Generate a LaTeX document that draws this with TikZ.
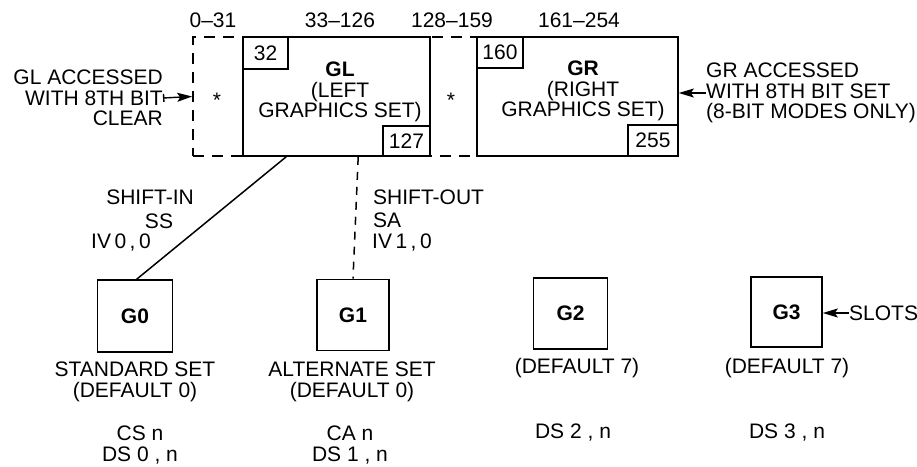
\documentclass[tikz,border=0pt]{standalone}
\usepackage{fontspec}
\setmainfont{Liberation Sans}
\usetikzlibrary{arrows.meta,calc}
\begin{document}
\begin{tikzpicture}[x=1pt,y=-1pt,
  every node/.style={font=\fontsize{21}{20.5}\selectfont, inner sep=0pt},
  box/.style={draw, line width=1.6pt, inner sep=0pt},
  frame/.style={draw, line width=1.6pt, dash pattern=on 11pt off 8pt, inner sep=0pt},
  conn/.style={line width=1.5pt},
  dconn/.style={line width=1.5pt, dash pattern=on 8pt off 7pt},
  arr/.style={line width=1.4pt, -{Stealth[length=15pt,width=9pt,inset=3pt]}},
  arrbar/.style={line width=1.4pt, {Bar[width=8pt]}-{Stealth[length=15pt,width=9pt,inset=3pt]}},
  txt/.style={align=center},
  gbox/.style={box, font=\fontsize{21}{20.5}\selectfont\bfseries}
]
\useasboundingbox (0,0) rectangle (917,466);

% dashed frame round the 7-bit code area
\node[frame, minimum width=284pt, minimum height=119pt] (frame) at (335,96.5) {};

% GL and GR
\node[box, fill=white, minimum width=187pt, minimum height=119pt] (GL) at (336.5,96.5) {};
\node[box, minimum width=45pt, minimum height=32pt, anchor=north west] (n32) at (GL.north west) {32};
\node[box, minimum width=47pt, minimum height=30pt, anchor=south east] (n127) at (GL.south east) {127};
\node[txt] (gllab) at (340,92) {\textbf{GL}\\(LEFT\\GRAPHICS SET)};

\node[box, fill=white, minimum width=201pt, minimum height=119pt] (GR) at (577.5,96.5) {};
\node[box, minimum width=46pt, minimum height=31pt, anchor=north west] (n160) at (GR.north west) {160};
\node[box, minimum width=50pt, minimum height=31pt, anchor=south east] (n255) at (GR.south east) {255};
\node[txt] (grlab) at (583,91) {\textbf{GR}\\(RIGHT\\GRAPHICS SET)};

% asterisks
\node[anchor=base] (st1) at (217,107) {*};
\node[anchor=base] (st2) at (451,107) {*};

% range labels
\node (r1) at (213,20) {0--31};
\node (r2) at (340,20) {33--126};
\node (r3) at (452,20) {128--159};
\node (r4) at (579,20) {161--254};

% access notes
\node[align=right, anchor=east] (glacc) at (163,98) {GL ACCESSED\\WITH 8TH BIT\\CLEAR};
\draw[arrbar] (glacc.east) -- (frame.west);
\node[align=left, anchor=west] (gracc) at (706,93) {GR ACCESSED\\WITH 8TH BIT SET\\(8-BIT MODES ONLY)};
\draw[arr] (gracc.west) -- (gracc.west -| GR.east);

% G0..G3
\node[gbox, minimum width=75pt, minimum height=72pt] (G0) at (135,316) {G0};
\node[gbox, minimum width=72pt, minimum height=71pt] (G1) at (353,315) {G1};
\node[gbox, minimum width=74pt, minimum height=71pt] (G2) at (570.5,313.5) {G2};
\node[gbox, minimum width=71pt, minimum height=70pt] (G3) at (786.5,312) {G3};

% connectors
\draw[conn] ($(GL.south west)+(44,0)$) -- ($(G0.north west)+(40,0)$);
\draw[dconn] ($(GL.south west)+(116,0)$) -- (G1.north);

% shift labels
\node (si1) at (150,197) {SHIFT-IN};
\node (si2) at (159,221) {SS};
\node[anchor=west] (si3) at (91,243) {IV\,0\,,\,0};
\node[anchor=west] (so1) at (373,197) {SHIFT-OUT};
\node[anchor=west] (so2) at (373,220) {SA};
\node[anchor=west] (so3) at (372,243) {IV\,1\,,\,0};

% slots
\node[anchor=west] (slots) at (849,313) {SLOTS};
\draw[arr] (slots.west) -- (slots.west -| G3.east);

% set names
\node[txt] (l0) at (135,382) {STANDARD SET\\(DEFAULT 0)};
\node[txt] (l1) at (352,382) {ALTERNATE SET\\(DEFAULT 0)};
\node (l2) at (577,368) {(DEFAULT 7)};
\node (l3) at (787,368) {(DEFAULT 7)};

% designating sequences
\node[txt] (c0) at (140,445) {CS n\\DS 0 , n};
\node[txt] (c1) at (350,445) {CA n\\DS 1 , n};
\node (c2) at (573,433) {DS 2 , n};
\node (c3) at (787,433) {DS 3 , n};
\end{tikzpicture}
\end{document}
